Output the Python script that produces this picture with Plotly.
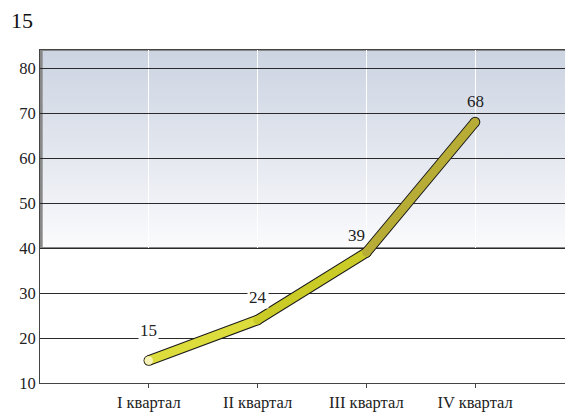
import base64
import plotly.graph_objects as go

categories = ["I квартал", "II квартал", "III квартал", "IV квартал"]
values = [15, 24, 39, 68]
title_text = "15"
y_ticks = [10, 20, 30, 40, 50, 60, 70, 80]
segment_colors = ["#dcdc3c", "#cacb26", "#b7ac36"]
label_shift = [30, 23, 17, 21]
label_xshift = [0, 0, -10, 0]
label_bg = ["white", "white", "rgba(0,0,0,0)", "rgba(0,0,0,0)"]

FONT = "Liberation Serif"
x_idx = list(range(len(categories)))
x_range = [-1, 3.9]
y_range = [10, 84]
grad_bottom = 40

svg = (
    '<svg xmlns="http://www.w3.org/2000/svg" width="100" height="100" preserveAspectRatio="none">'
    '<defs><linearGradient id="g" x1="0" y1="0" x2="0" y2="1">'
    '<stop offset="0" stop-color="#ccd4e2"/><stop offset="0.5" stop-color="#e2e6ee"/>'
    '<stop offset="1" stop-color="#fbfbfd"/></linearGradient></defs>'
    '<rect width="100" height="100" fill="url(#g)" stroke="#888" stroke-width="1"/></svg>'
)
src = "data:image/svg+xml;base64," + base64.b64encode(svg.encode()).decode()

fig = go.Figure()
# dark outline
fig.add_trace(go.Scatter(
    x=x_idx, y=values, mode="lines+markers",
    line=dict(color="#1a1a1a", width=10.5),
    marker=dict(color="#1a1a1a", size=10.5, line=dict(width=0)),
    hoverinfo="skip", showlegend=False))
for i in range(len(values) - 1):
    fig.add_trace(go.Scatter(
        x=x_idx[i:i + 2], y=values[i:i + 2], mode="lines+markers",
        line=dict(color=segment_colors[i], width=8.5),
        marker=dict(color=segment_colors[i], size=8.5, line=dict(width=0)),
        hoverinfo="skip", showlegend=False))
# first point pale
fig.add_trace(go.Scatter(
    x=x_idx[:1], y=values[:1], mode="markers",
    marker=dict(color="#f6f2b8", size=8.5, line=dict(width=0)),
    hoverinfo="skip", showlegend=False))

for i, v in enumerate(values):
    fig.add_annotation(x=x_idx[i], y=v, text=str(v), showarrow=False,
                       yshift=label_shift[i], xshift=label_xshift[i],
                       font=dict(family=FONT, size=17, color="#222"),
                       bgcolor=label_bg[i], borderpad=1)

fig.add_annotation(xref="paper", yref="paper", x=0, y=1.0, xshift=-31, yshift=30,
                   text=title_text, showarrow=False, xanchor="left", yanchor="middle",
                   font=dict(family=FONT, size=22, color="#111"))

fig.add_layout_image(dict(source=src, xref="x", yref="y", x=x_range[0], y=y_range[1],
                          sizex=x_range[1] - x_range[0], sizey=y_range[1] - grad_bottom,
                          sizing="stretch", layer="below", xanchor="left", yanchor="top"))

# the page body has an 8px margin; compensate so the plot sits where the reference has it
fig.update_layout(
    width=565, height=404,
    margin=dict(l=32, r=0, t=42, b=29),
    paper_bgcolor="white", plot_bgcolor="white",
    showlegend=False,
    font=dict(family=FONT, size=16.5, color="#222"),
)
fig.update_xaxes(range=x_range, tickmode="array", tickvals=x_idx, ticktext=categories,
                 showgrid=True, gridcolor="white", gridwidth=1,
                 showline=True, linecolor="#444", linewidth=1, mirror=True,
                 ticks="outside", ticklen=4, tickcolor="#444", zeroline=False,
                 tickfont=dict(family=FONT, size=16.5, color="#222"))
fig.update_yaxes(range=y_range, tickmode="array", tickvals=y_ticks,
                 showgrid=True, gridcolor="#2a2a2a", gridwidth=1,
                 showline=True, linecolor="#444", linewidth=1, mirror=True,
                 ticks="", zeroline=False,
                 tickfont=dict(family=FONT, size=16.5, color="#222"))

fig.write_html("out.html")
